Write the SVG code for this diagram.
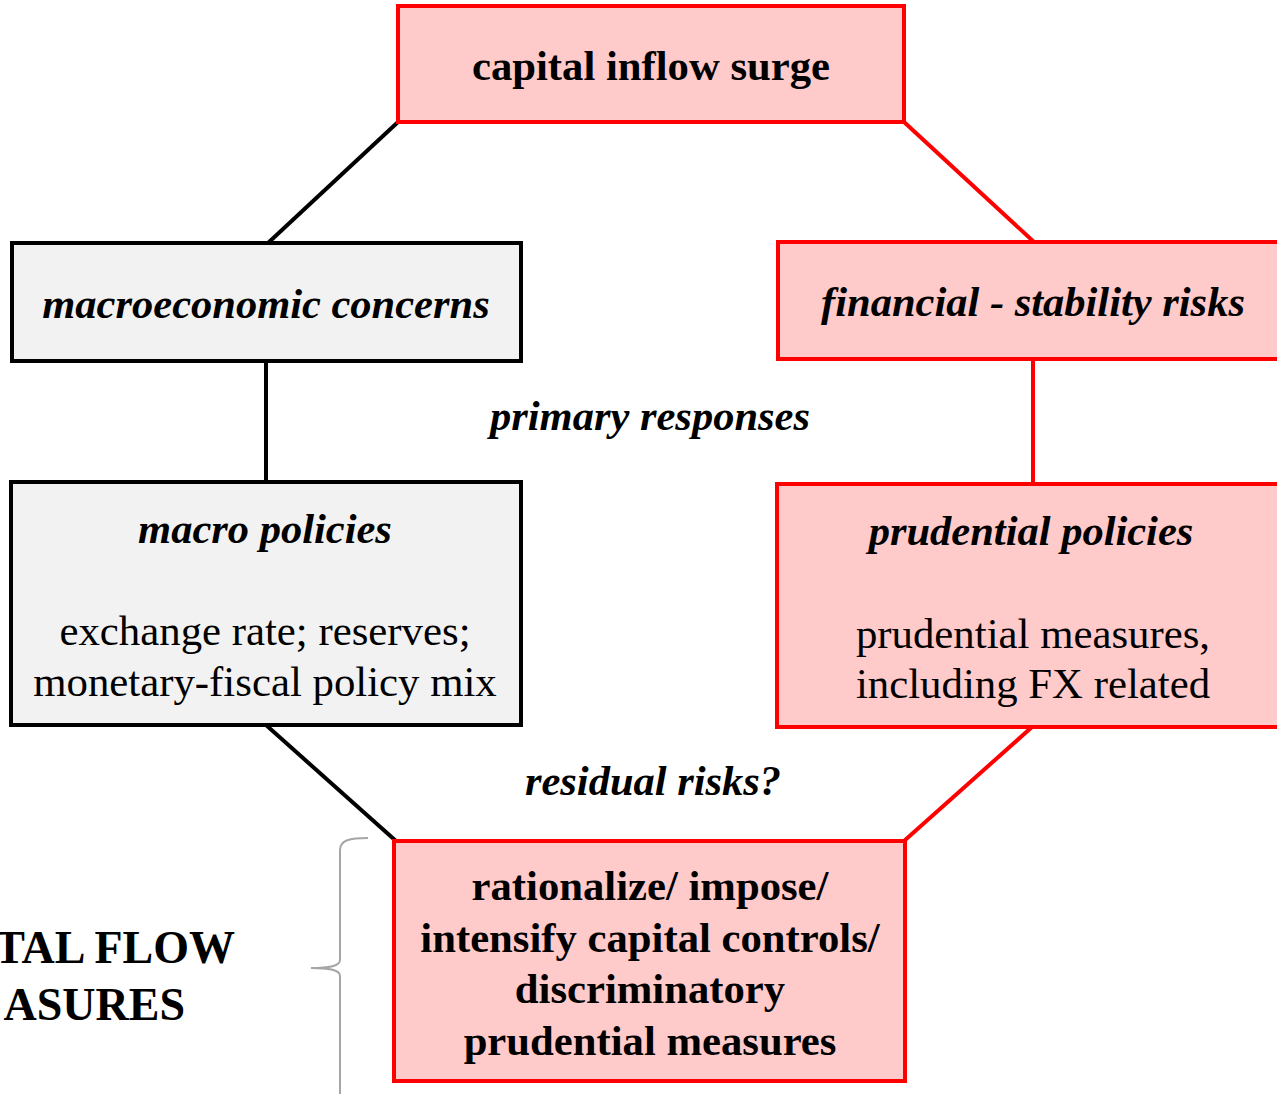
<svg xmlns="http://www.w3.org/2000/svg" width="1277" height="1094" viewBox="0 0 1277 1094">
<style>
.red{fill:#FFCACA;stroke:#FF0000;stroke-width:4}
.gray{fill:#F2F2F2;stroke:#000;stroke-width:4}
text{font-family:"Liberation Serif","Times New Roman",serif;fill:#000;text-anchor:middle}
.b{font-weight:bold;font-size:42.7px}
.bi{font-weight:bold;font-style:italic;font-size:42.5px}
.r{font-size:42.8px}
.big{font-weight:bold;font-size:46px;text-anchor:end}
.cb{stroke:#000;stroke-width:4;fill:none}
.cr{stroke:#FF0000;stroke-width:4;fill:none}
</style>
<g id="connectors">
<line class="cb" x1="398" y1="122" x2="268" y2="243"/>
<line class="cb" x1="266" y1="361" x2="266" y2="482"/>
<line class="cb" x1="266" y1="725" x2="396" y2="841"/>
<line class="cr" x1="904" y1="122" x2="1034" y2="242"/>
<line class="cr" x1="1033" y1="359" x2="1033" y2="484"/>
<line class="cr" x1="1032" y1="727" x2="904" y2="841"/>
</g>
<g id="n-surge">
<rect class="red" x="398" y="6" width="506" height="116"/>
<text class="b" x="651" y="80">capital inflow surge</text>
</g>
<g id="n-macro-concerns">
<rect class="gray" x="12" y="243" width="509" height="118"/>
<text class="bi" x="266" y="318">macroeconomic concerns</text>
</g>
<g id="n-fin-risks">
<rect class="red" x="778" y="242" width="504" height="117"/>
<text class="bi" x="1033" y="316">financial - stability risks</text>
</g>
<g id="n-macro-policies">
<rect class="gray" x="11" y="482" width="510" height="243"/>
<text class="bi" x="265" y="543">macro policies</text>
<text class="r" x="265" y="645">exchange rate; reserves;</text>
<text class="r" x="265" y="696">monetary-fiscal policy mix</text>
</g>
<g id="n-prudential">
<rect class="red" x="777" y="484" width="505" height="243"/>
<text class="bi" x="1031" y="545">prudential policies</text>
<text class="r" x="1033" y="648">prudential measures,</text>
<text class="r" x="1033" y="698">including FX related</text>
</g>
<g id="n-controls">
<rect class="red" x="394" y="841" width="511" height="240"/>
<text class="b" x="650" y="900">rationalize/ impose/</text>
<text class="b" x="650" y="952">intensify capital controls/</text>
<text class="b" x="650" y="1003">discriminatory</text>
<text class="b" x="650" y="1055">prudential measures</text>
</g>
<g id="labels">
<text class="bi" x="650" y="430">primary responses</text>
<text class="bi" x="653" y="795">residual risks?</text>
<text class="big" x="235" y="963">TAL FLOW</text>
<text class="big" x="185" y="1020">ASURES</text>
</g>
<path id="brace" d="M368,838 C350,838 340,840 340,850 L340,960 C340,966 330,968 311,968 C330,968 340,970 340,976 L340,1094" fill="none" stroke="#A6A6A6" stroke-width="2"/>
</svg>
